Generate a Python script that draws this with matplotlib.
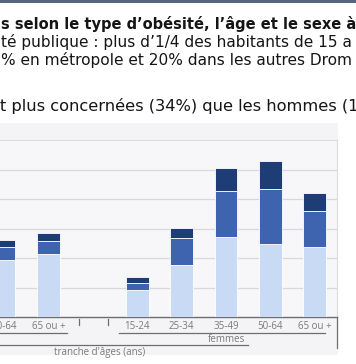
import numpy as np
import matplotlib.pyplot as plt
from matplotlib.lines import Line2D
from matplotlib.patches import Rectangle

W, H = 356, 364

# age groups, hommes / (gap) / femmes
ages = ["15-24", "25-34", "35-49", "50-64", "65 ou +"]
groups = ["hommes", "femmes"]

# % per type of obesity (men 15-49 fall outside the crop)
hommes_modere = [np.nan, np.nan, np.nan, 19.3, 21.3]
hommes_severe = [np.nan, np.nan, np.nan, 4.3, 4.3]
hommes_morbide = [np.nan, np.nan, np.nan, 2.5, 2.9]

femmes_modere = [9.2, 17.6, 27.2, 24.6, 23.8]
femmes_severe = [2.4, 9.3, 15.5, 18.8, 12.1]
femmes_morbide = [1.9, 3.3, 7.9, 9.4, 6.0]

c_light = "#C8DAF4"
c_mid = "#3E64AF"
c_dark = "#1E3C76"
grey = "#6E6E6E"


def fx(x):
  return x / W


def fy(y):
  return 1 - y / H


fig = plt.figure(figsize=(W / 100, H / 100), dpi=100)
fig.patch.set_facecolor("white")

# slide header bar and chart area
fig.add_artist(Rectangle((0, fy(2.5)), 1, 2.5 / H, transform=fig.transFigure, color="#56657D", lw=0))
fig.add_artist(Rectangle((fx(-200), fy(355)), fx(538), (355 - 123) / H, transform=fig.transFigure,
                         color="#F4F3F6", lw=0, zorder=0))

# slide text
font = ["DejaVu Sans"]
fig.text(fx(1), fy(29), "s selon le type d’obésité, l’âge et le sexe à", fontsize=10.5,
         fontweight="bold", family=font, color="#151515", va="baseline")
fig.text(fx(1), fy(47), "té publique : plus d’1/4 des habitants de 15 a", fontsize=11.1,
         family=font, color="#151515", va="baseline")
fig.text(fx(1), fy(65), "% en métropole et 20% dans les autres Drom", fontsize=11.1,
         family=font, color="#151515", va="baseline")
fig.text(fx(0), fy(111), "t plus concernées (34%) que les hommes (1", fontsize=11.7,
         family=font, color="#151515", va="baseline")

# plot area (extends past the left edge of the crop)
left, right, top, bottom = -151.4, 337, 140, 317
ax = fig.add_axes([fx(left), fy(bottom), fx(right - left), (bottom - top) / H])
ax.set_facecolor("#F7F6F9")

n = len(ages)
x_h = np.arange(n)
x_f = np.arange(n) + n + 1
bw = 0.51

for xs, a, b, c in [(x_h, hommes_modere, hommes_severe, hommes_morbide),
                    (x_f, femmes_modere, femmes_severe, femmes_morbide)]:
  a = np.array(a)
  b = np.array(b)
  c = np.array(c)
  ax.bar(xs, a, bw, color=c_light, edgecolor="white", linewidth=0.6, zorder=3)
  ax.bar(xs, b, bw, bottom=a, color=c_mid, edgecolor="white", linewidth=0.6, zorder=3)
  ax.bar(xs, c, bw, bottom=a + b, color=c_dark, edgecolor="white", linewidth=0.6, zorder=3)

ax.set_xlim(-0.5, 2 * n + 0.5)
ax.set_ylim(0, 60)
ax.set_yticks(np.arange(10, 60, 10))
ax.yaxis.grid(True, color="#D8D8DB", linewidth=0.9, zorder=0)
ax.tick_params(axis="y", left=False, labelleft=False)

ax.set_xticks(list(x_h) + [n] + list(x_f))
ax.set_xticklabels(ages + [""] + ages, family=["Open Sans", "DejaVu Sans"], fontsize=7, color="#7A7A7A")
ax.tick_params(axis="x", length=0, pad=3.2)

for s in ["top", "right"]:
  ax.spines[s].set_color("#DDDDE0")
  ax.spines[s].set_linewidth(0.8)
ax.spines["left"].set_visible(False)
ax.spines["bottom"].set_color(grey)
ax.spines["bottom"].set_linewidth(1.0)

# group labels and axis title
for g, xs in zip(groups, [x_h, x_f]):
  ax.annotate(g, (xs.mean(), fy(339)), xycoords=("data", "figure fraction"), ha="center", va="center",
              family=["Open Sans", "DejaVu Sans"], fontsize=7, color="#7A7A7A", annotation_clip=False)
fig.text(fx(100), fy(352.5), "tranche d'âges (ans)", ha="center", va="center",
         family=["Open Sans", "DejaVu Sans"], fontsize=7, color="#7A7A7A")

# multi-level category axis lines
for x0, y0, x1, y1 in [(0, 333, 67, 333), (119, 333, 325, 333), (0, 345, 248, 345),
                       (337, 317, 337, 348), (79, 319, 79, 325), (108, 319, 108, 325)]:
  fig.add_artist(Line2D([fx(x0), fx(x1)], [fy(y0), fy(y1)], transform=fig.transFigure,
                        color=grey, linewidth=0.9))

fig.savefig("out.png", dpi=100)
